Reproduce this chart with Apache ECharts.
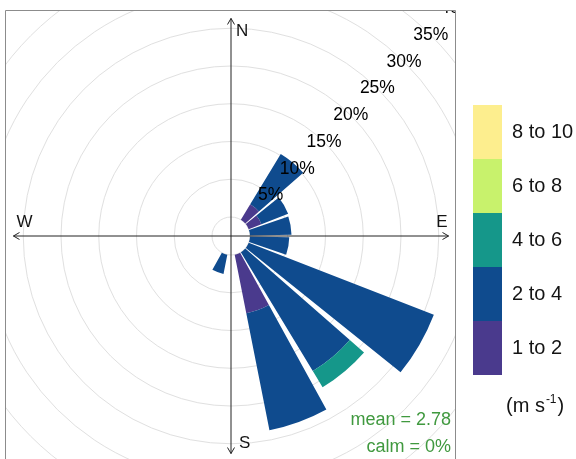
<!DOCTYPE html>
<html>
<head>
<meta charset="utf-8">
<script src="https://cdn.jsdelivr.net/npm/echarts@6/dist/echarts.min.js"></script>
<style>
  html, body { margin: 0; padding: 0; background: #fff; }
  #chart { width: 576px; height: 459px; }
</style>
</head>
<body>
<div id="chart"></div>
<script>
// Wind direction sectors (bearing of sector centre, degrees)
const directions = ['0', '20', '40', '60', '80', '100', '120', '140', '160',
                    '180', '200', '220', '240', '260', '280', '300', '320', '340'];
// Wind speed classes (m s-1)
const speedBins = ['1 to 2', '2 to 4', '4 to 6', '6 to 8', '8 to 10'];
// Frequency (%) per sector for each speed class
const freq1to2  = [0, 0, 2.4, 1.8, 0,   0,   0,    0,    7.9,  0, 0,   0, 0, 0, 0, 0, 0, 0];
const freq2to4  = [0, 0, 7.8, 3.8, 5.5, 5.2, 26.3, 18.4, 15.8, 0, 2.6, 0, 0, 0, 0, 0, 0, 0];
const freq4to6  = [0, 0, 0,   0,   0,   0,   0,    2.5,  0,    0, 0,   0, 0, 0, 0, 0, 0, 0];
const freq6to8  = [0, 0, 0,   0,   0,   0,   0,    0,    0,    0, 0,   0, 0, 0, 0, 0, 0, 0];
const freq8to10 = [0, 0, 0,   0,   0,   0,   0,    0,    0,    0, 0,   0, 0, 0, 0, 0, 0, 0];
// Percentage rings and their labels
const pctTicks = [5, 10, 15, 20, 25, 30, 35, 40];
const meanSpeed = 2.78;
const calmPct = 0;

// Layout
const CX = 231, CY = 236;          // rose centre
const R_IN = 19, R_OUT = 321;      // inner hole and outer radius (px)
const R_MAX = 40;                  // percentage at R_OUT
const LABEL_BEARING = 45;
const PANEL = { x: 5.5, y: 10.5, w: 450, h: 470 };
const palette = ['#4A3A8D', '#0F4B8E', '#15978A', '#C8F26C', '#FDEE8E'];

const freqs = [freq1to2, freq2to4, freq4to6, freq6to8, freq8to10];
const totals = directions.map((_, i) => freqs.reduce((s, f) => s + f[i], 0));
const maxTotal = Math.max(...totals);
const pxPerPct = (R_OUT - R_IN) / R_MAX;
const reach = R_IN + maxTotal * pxPerPct;   // length of compass arms

const chart = echarts.init(document.getElementById('chart'), null, { renderer: 'canvas' });

const font = 'Liberation Sans, Arial, sans-serif';
const ink = '#141414';

function arrow(x, y, dir) {
  // open arrowhead pointing along dir (unit vector)
  const L = 7, a = Math.PI / 6;
  const ang = Math.atan2(dir[1], dir[0]);
  const p1 = [x - L * Math.cos(ang - a), y - L * Math.sin(ang - a)];
  const p2 = [x - L * Math.cos(ang + a), y - L * Math.sin(ang + a)];
  return {
    type: 'polyline', z: 20, silent: true,
    shape: { points: [p1, [x, y], p2] },
    style: { stroke: '#222', lineWidth: 1, fill: null }
  };
}

const barSeries = speedBins.map((name, k) => ({
  name: name,
  type: 'bar',
  coordinateSystem: 'polar',
  polarIndex: 0,
  stack: 'rose',
  barCategoryGap: '12%',
  data: freqs[k],
  itemStyle: { color: palette[k] },
  silent: true,
  z: 2
}));

const option = {
  animation: false,
  backgroundColor: '#fff',
  polar: [
    { center: [CX, CY], radius: [R_IN, R_OUT] },
    { center: [CX, CY], radius: [R_IN, R_OUT] }
  ],
  angleAxis: [
    {
      polarIndex: 0, type: 'category', data: directions,
      startAngle: 100, clockwise: true, boundaryGap: true,
      axisLine: { show: false }, axisTick: { show: false },
      axisLabel: { show: false }, splitLine: { show: false }
    },
    {
      polarIndex: 1, type: 'value', min: 0, max: 360,
      startAngle: 90, clockwise: true,
      axisLine: { show: false }, axisTick: { show: false },
      axisLabel: { show: false }, splitLine: { show: false }
    }
  ],
  radiusAxis: [
    {
      polarIndex: 0, type: 'value', min: 0, max: R_MAX, interval: 5,
      axisLine: { show: false }, axisTick: { show: false },
      axisLabel: { show: false },
      splitLine: { show: true, lineStyle: { color: '#e0e0e0', width: 1 } }
    },
    {
      polarIndex: 1, type: 'value', min: 0, max: R_MAX,
      axisLine: { show: false }, axisTick: { show: false },
      axisLabel: { show: false }, splitLine: { show: false }
    }
  ],
  legend: {
    orient: 'vertical', left: 468, top: 100,
    itemWidth: 29, itemHeight: 54, itemGap: 0,
    icon: 'rect', selectedMode: false, z: 60,
    data: speedBins.slice().reverse(),
    textStyle: { fontSize: 20, color: ink, fontFamily: font, padding: [0, 0, 0, 5] }
  },
  series: barSeries.concat([{
    type: 'scatter',
    coordinateSystem: 'polar',
    polarIndex: 1,
    symbolSize: 1,
    silent: true,
    itemStyle: { color: 'rgba(0,0,0,0)', opacity: 1 },
    data: pctTicks.map(t => [t, LABEL_BEARING]),
    label: {
      show: true, position: [0, 0], align: 'center', verticalAlign: 'middle',
      formatter: p => p.value[0] + '%',
      fontSize: 17.5, color: '#000', fontFamily: font,
      textBorderWidth: 0
    },
    z: 6
  }]),
  graphic: [
    // compass cross
    { type: 'line', z: 20, silent: true, shape: { x1: CX, y1: CY - reach, x2: CX, y2: CY + reach },
      style: { stroke: '#222', lineWidth: 1 } },
    { type: 'line', z: 20, silent: true, shape: { x1: CX - reach, y1: CY, x2: CX + reach, y2: CY },
      style: { stroke: '#222', lineWidth: 1 } },
    arrow(CX, CY - reach, [0, -1]),
    arrow(CX, CY + reach, [0, 1]),
    arrow(CX - reach, CY, [-1, 0]),
    arrow(CX + reach, CY, [1, 0]),
    { type: 'text', z: 20, silent: true, style: { text: 'N', x: CX + 5, y: CY - reach + 13,
      fontSize: 17, fontFamily: font, fill: ink, verticalAlign: 'middle' } },
    { type: 'text', z: 20, silent: true, style: { text: 'S', x: CX + 8, y: CY + reach - 10,
      fontSize: 17, fontFamily: font, fill: ink, verticalAlign: 'middle' } },
    { type: 'text', z: 20, silent: true, style: { text: 'W', x: CX - reach + 3, y: CY - 14,
      fontSize: 17, fontFamily: font, fill: ink, verticalAlign: 'middle' } },
    { type: 'text', z: 20, silent: true, style: { text: 'E', x: CX + reach - 1, y: CY - 14,
      fontSize: 17, fontFamily: font, fill: ink, align: 'right', verticalAlign: 'middle' } },
    // summary statistics
    { type: 'text', z: 20, silent: true, style: { text: 'mean = ' + meanSpeed.toFixed(2),
      x: 451, y: 420, fontSize: 18, fontFamily: font, fill: '#40993F', align: 'right', verticalAlign: 'middle' } },
    { type: 'text', z: 20, silent: true, style: { text: 'calm = ' + calmPct + '%',
      x: 451, y: 447, fontSize: 18, fontFamily: font, fill: '#40993F', align: 'right', verticalAlign: 'middle' } },
    // white surround outside the plotting panel
    { type: 'rect', z: 50, silent: true, shape: { x: 0, y: 0, width: 576, height: PANEL.y }, style: { fill: '#fff' } },
    { type: 'rect', z: 50, silent: true, shape: { x: 0, y: 0, width: PANEL.x, height: 459 }, style: { fill: '#fff' } },
    { type: 'rect', z: 50, silent: true, shape: { x: PANEL.x + PANEL.w, y: 0, width: 200, height: 459 }, style: { fill: '#fff' } },
    // panel frame
    { type: 'rect', z: 55, silent: true, shape: { x: PANEL.x, y: PANEL.y, width: PANEL.w, height: PANEL.h },
      style: { fill: null, stroke: '#8c8c8c', lineWidth: 1 } },
    // legend units
    { type: 'text', z: 60, silent: true, left: 506, top: 394, style: {
      text: '{a|(m s}{s|-1}{a|)}',
      rich: {
        a: { fontSize: 20, fontFamily: font, fill: ink, color: ink },
        s: { fontSize: 12, fontFamily: font, fill: ink, color: ink, padding: [0, 1, 12, 1] }
      } } }
  ]
};

chart.setOption(option);
</script>
</body>
</html>
